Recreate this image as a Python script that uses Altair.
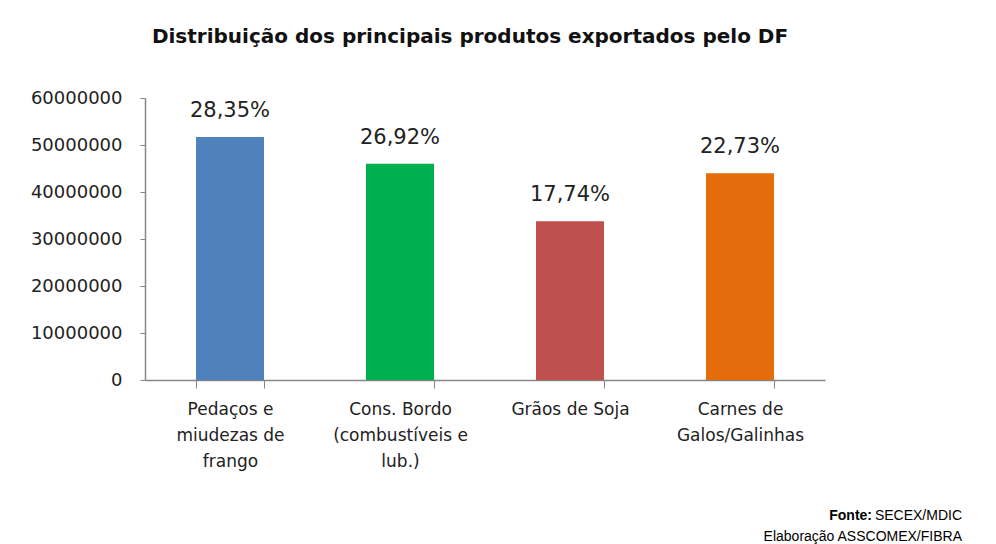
import altair as alt
import pandas as pd

categories = ["Pedaços e|miudezas de|frango", "Cons. Bordo|(combustíveis e|lub.)", "Grãos de Soja", "Carnes de|Galos/Galinhas"]
values = [51700000, 46000000, 33800000, 44000000]
pct_labels = ["28,35%", "26,92%", "17,74%", "22,73%"]
colors = ["#4f81bd", "#00b050", "#c0504d", "#e46c0a"]
y_ticks = [0, 10000000, 20000000, 30000000, 40000000, 50000000, 60000000]

df = pd.DataFrame({"cat": categories, "val": values, "pct": pct_labels})
one = pd.DataFrame({"k": [0]})

FONT = "DejaVu Sans"

x_enc = alt.X("cat:N", sort=categories,
              scale=alt.Scale(paddingInner=0.6, paddingOuter=0.3),
              axis=alt.Axis(title=None, labelAngle=0, labelExpr="split(datum.label, '|')",
                            labelFont=FONT, labelFontSize=17, labelColor="#222222",
                            labelLineHeight=26, labelPadding=13, labelBaseline="top",
                            tickBand="extent", tickSize=8, tickColor="#868686",
                            domainColor="#868686", domainWidth=1.5, labelLimit=300))
y_enc = alt.Y("val:Q", scale=alt.Scale(domain=[0, 60000000], nice=False),
              axis=alt.Axis(title=None, values=y_ticks, format="d", grid=False,
                            labelFont=FONT, labelFontSize=18, labelColor="#222222",
                            labelPadding=18, tickSize=5, tickColor="#868686",
                            domainColor="#868686", domainWidth=1.5))

bars = alt.Chart(df).mark_bar().encode(
    x=x_enc, y=y_enc,
    color=alt.Color("cat:N", sort=categories, scale=alt.Scale(domain=categories, range=colors), legend=None),
)
labels = alt.Chart(df).mark_text(dy=-26, font=FONT, fontSize=21, color="#222222", baseline="middle").encode(
    x=alt.X("cat:N", sort=categories), y="val:Q", text="pct:N")

src1 = alt.Chart(one).mark_text(font="Liberation Sans", fontSize=14, fontWeight="bold", align="right",
                                baseline="middle", color="#000000").encode(
    x=alt.value(727), y=alt.value(418), text=alt.value("Fonte:"))
src2 = alt.Chart(one).mark_text(font="Liberation Sans", fontSize=14, align="right",
                                baseline="middle", color="#000000").encode(
    x=alt.value(817), y=alt.value(418), text=alt.value("SECEX/MDIC"))
src3 = alt.Chart(one).mark_text(font="Liberation Sans", fontSize=14, align="right",
                                baseline="middle", color="#000000").encode(
    x=alt.value(817), y=alt.value(439), text=alt.value("Elaboração ASSCOMEX/FIBRA"))

chart = alt.layer(bars, labels, src1, src2, src3).properties(
    width=680, height=282,
    background="white",
    title=alt.TitleParams("Distribuição dos principais produtos exportados pelo DF",
                          font=FONT, fontSize=20, fontWeight="bold", color="#111111",
                          anchor="middle", frame="group", dx=-15, offset=42),
    autosize=alt.AutoSizeParams(type="none"),
    padding={"left": 137, "top": 90, "right": 163, "bottom": 164},
).configure_view(stroke=None)

chart.save("out.html", embed_options={"renderer": "svg", "actions": False})
